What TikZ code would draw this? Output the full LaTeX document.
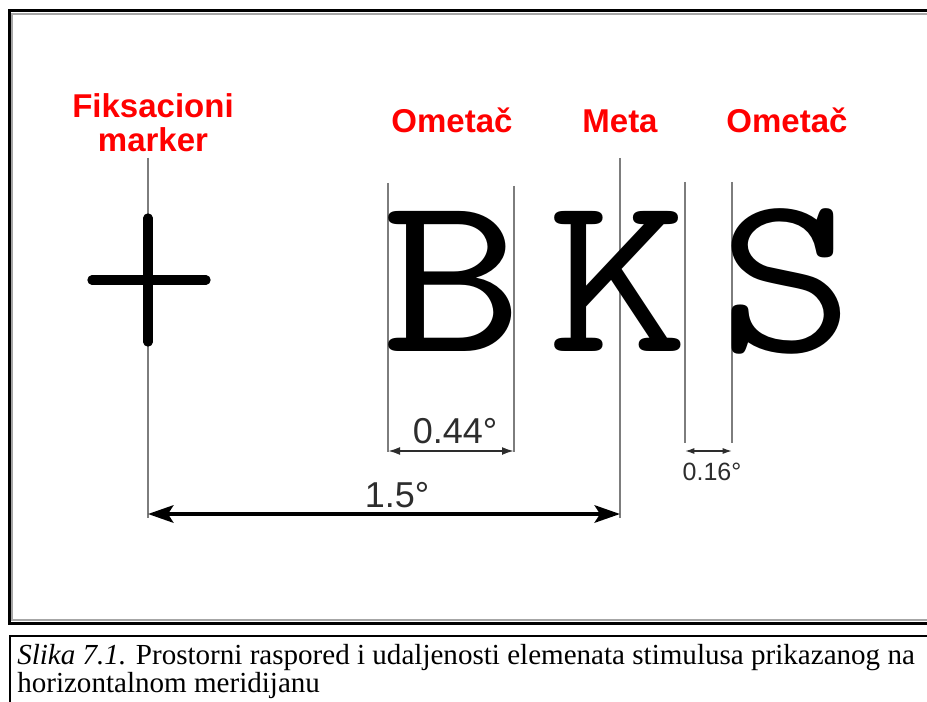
\documentclass[tikz,border=0pt]{standalone}
\usepackage{fontspec}
\setmainfont{Liberation Serif}
\setsansfont{Liberation Sans}
\usetikzlibrary{arrows.meta}

\definecolor{oznaka}{RGB}{255,0,0}
\definecolor{vodilja}{RGB}{125,125,125}
\definecolor{mjera}{RGB}{45,45,45}

\tikzset{
    vodilja/.style={draw=vodilja, line width=1.4pt},
    naziv/.style={text=oznaka, font=\sffamily\bfseries\fontsize{24.75}{26}\selectfont, align=center, anchor=base, inner sep=0pt},
    slovo/.style={font=\ttfamily\fontsize{172}{172}\selectfont, anchor=base, inner sep=0pt},
    iznos/.style={text=mjera, font=\sffamily\fontsize{27}{30}\selectfont, anchor=base, inner sep=0pt},
    malo/.style={text=mjera, font=\sffamily\fontsize{18.75}{22}\selectfont, anchor=base, inner sep=0pt},
    natpis/.style={anchor=base west, inner sep=0pt, font=\fontsize{21.8}{18}\selectfont},
    krst/.style={line width=7pt, line cap=round},
}

\begin{document}
\begin{tikzpicture}[x=0.75pt, y=-0.75pt]
    \useasboundingbox (0,0) rectangle (927,702);

    % okvir slike
    \draw[line width=2.25pt] (950,11) -- (9.5,11) -- (9.5,623) -- (950,623);
    \draw[gray!70, line width=1.5pt] (950,13.8) -- (12.3,13.8) -- (12.3,620.3) -- (950,620.3);
    % okvir natpisa
    \draw[line width=1.5pt] (950,636) -- (9.5,636) -- (9.5,720);

    % nazivi elemenata
    \node[naziv] (fiks) at (153,152) {Fiksacioni\\marker};
    \node[naziv] (ometac1) at (452,133) {Ometač};
    \node[naziv] (meta) at (620,133) {Meta};
    \node[naziv] (ometac2) at (787,133) {Ometač};

    % vodilje
    \draw[vodilja] (148,158) -- (148,518);
    \draw[vodilja] (620,158) -- (620,518);
    \draw[vodilja] (388,183) -- (388,452);
    \draw[vodilja] (514,186) -- (514,452);
    \foreach \x in {685,732}
        {\draw[vodilja] (\x,182) -- (\x,443);}

    % fiksacioni krst
    \draw[krst] (148,218) -- (148,342);
    \draw[krst] (92,280) -- (206,280);

    % slova
    \node[slovo] (B) at (452,351) {\scalebox{1.2}[1]{B}};
    \node[slovo] (K) at (618,351) {\scalebox{1.2}[1]{K}};
    \node[slovo] (S) at (786,351) {\scalebox{1.15}[1]{S}};

    % kote
    \coordinate (b1) at (388,451);
    \coordinate (b2) at (514,451);
    \coordinate (s1) at (685,451);
    \coordinate (s2) at (732,451);
    \coordinate (f1) at (148,514);
    \coordinate (f2) at (620,514);
    \draw[mjera, line width=1.5pt, {Latex[length=9pt,width=6pt]}-{Latex[length=9pt,width=6pt]}] (b1) -- (b2);
    \draw[mjera, line width=1pt, {Latex[length=7pt,width=4.5pt]}-{Latex[length=7pt,width=4.5pt]}] (s1) -- (s2);
    \draw[line width=3pt, {Stealth[length=19pt,width=13pt,inset=4pt]}-{Stealth[length=19pt,width=13pt,inset=4pt]}] (f1) -- (f2);
    \node[iznos] (d044) at (455,443) {0.44°};
    \node[iznos] (d15) at (397,507) {1.5°};
    \node[malo] (d016) at (712,480) {0.16°};

    % natpis
    \node[natpis] (red1) at (17,664) {\textit{Slika 7.1.} Prostorni raspored i udaljenosti elemenata stimulusa prikazanog na};
    \node[natpis] (red2) at (17,692) {horizontalnom meridijanu};
\end{tikzpicture}
\end{document}
